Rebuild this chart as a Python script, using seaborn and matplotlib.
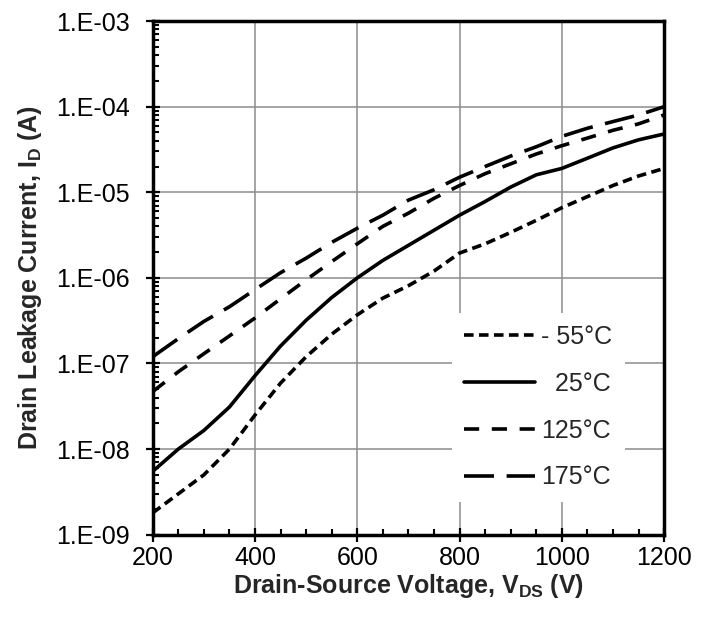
import numpy as np
import pandas as pd
import seaborn as sns
import matplotlib.pyplot as plt
from matplotlib.ticker import LogLocator, MultipleLocator, FuncFormatter, NullFormatter

# dados (tensao em V, corrente em A)
vds = [200, 250, 300, 350, 400, 450, 500, 550, 600, 650, 700,
       750, 800, 850, 900, 950, 1000, 1050, 1100, 1150, 1200]

id_m55 = [1.8e-9, 3.0e-9, 5.0e-9, 1.0e-8, 2.5e-8, 5.9e-8, 1.2e-7, 2.2e-7, 3.7e-7, 5.8e-7, 8.1e-7,
          1.2e-6, 1.95e-6, 2.5e-6, 3.4e-6, 4.7e-6, 6.6e-6, 8.9e-6, 1.2e-5, 1.55e-5, 1.9e-5]
id_25 = [5.5e-9, 1.0e-8, 1.65e-8, 3.1e-8, 7.2e-8, 1.6e-7, 3.2e-7, 5.9e-7, 1.0e-6, 1.6e-6, 2.4e-6,
         3.6e-6, 5.4e-6, 7.8e-6, 1.15e-5, 1.6e-5, 1.9e-5, 2.5e-5, 3.3e-5, 4.1e-5, 4.8e-5]
id_125 = [4.7e-8, 8.0e-8, 1.3e-7, 2.1e-7, 3.4e-7, 5.7e-7, 9.5e-7, 1.55e-6, 2.5e-6, 4.0e-6, 5.7e-6,
          8.5e-6, 1.2e-5, 1.65e-5, 2.15e-5, 2.8e-5, 3.5e-5, 4.3e-5, 5.3e-5, 6.3e-5, 8.0e-5]
id_175 = [1.2e-7, 1.95e-7, 3.1e-7, 4.6e-7, 7.3e-7, 1.15e-6, 1.7e-6, 2.6e-6, 3.8e-6, 5.4e-6, 8.1e-6,
          1.07e-5, 1.5e-5, 2.0e-5, 2.65e-5, 3.4e-5, 4.5e-5, 5.6e-5, 6.7e-5, 8.0e-5, 1.0e-4]

labels = ["- 55°C", "  25°C", "125°C", "175°C"]
series = [id_m55, id_25, id_125, id_175]
estilos = [(0, (2.65, 1.5)), "-", (0, (4.2, 3.5)), (0, (8.3, 3.5))]

sns.set_style("white")
plt.rcParams["font.family"] = ["Liberation Sans", "DejaVu Sans"]
plt.rcParams["mathtext.fontset"] = "custom"
plt.rcParams["mathtext.rm"] = "Liberation Sans"
plt.rcParams["mathtext.bf"] = "Liberation Sans:bold"

fig = plt.figure(figsize=(7.11, 6.17), dpi=100)
ax = fig.add_axes([0.2148, 0.1334, 0.934 - 0.2148, 0.9658 - 0.1334])

for lab, vals, ls in zip(labels, series, estilos):
    df = pd.DataFrame({"V": vds, "I": vals})
    sns.lineplot(data=df, x="V", y="I", ax=ax, color="black", linewidth=2.6,
                 linestyle=ls, label=lab)

ax.set_yscale("log")
ax.set_xlim(200, 1200)
ax.set_ylim(1e-9, 1e-3)

ax.xaxis.set_major_locator(MultipleLocator(200))
ax.xaxis.set_minor_locator(MultipleLocator(50))
ax.yaxis.set_major_locator(LogLocator(base=10, numticks=10))
ax.yaxis.set_minor_locator(LogLocator(base=10, subs=np.arange(2, 10), numticks=100))
ax.yaxis.set_minor_formatter(NullFormatter())
ax.yaxis.set_major_formatter(FuncFormatter(lambda v, p: "1.E-%02d" % round(-np.log10(v))))

ax.tick_params(which="both", bottom=True, left=True, top=False, right=False)
ax.tick_params(which="major", direction="inout", length=9.5, width=1.6, labelsize=18,
               colors="black")
ax.tick_params(axis="y", which="major", pad=12)
ax.tick_params(axis="x", which="major", pad=3.5)
ax.tick_params(which="minor", direction="in", length=4, width=1.5, colors="black")

ax.grid(True, which="major", color="#8c8c8c", linewidth=1.1)
ax.set_axisbelow(True)
for s in ax.spines.values():
    s.set_visible(True)
    s.set_color("black")
    s.set_linewidth(2.5)

ax.set_xlabel(r"Drain-Source Voltage, $\mathbf{V_{DS}}$ (V)", fontsize=18,
              fontweight="bold")
ax.set_ylabel(r"Drain Leakage Current, $\mathbf{I_{D}}$ (A)", fontsize=18,
              fontweight="bold")
ax.xaxis.set_label_coords(0.5, -0.072)
ax.yaxis.set_label_coords(-0.2126, 0.5)

leg = ax.legend(loc="lower left", bbox_to_anchor=(0.585, 0.0637), fontsize=18,
                handlelength=2.84, handletextpad=0.24, labelspacing=0.91,
                borderpad=0.5, borderaxespad=0, frameon=True, fancybox=False,
                framealpha=1, facecolor="white", edgecolor="none")

fig.savefig("out.png", dpi=100)
